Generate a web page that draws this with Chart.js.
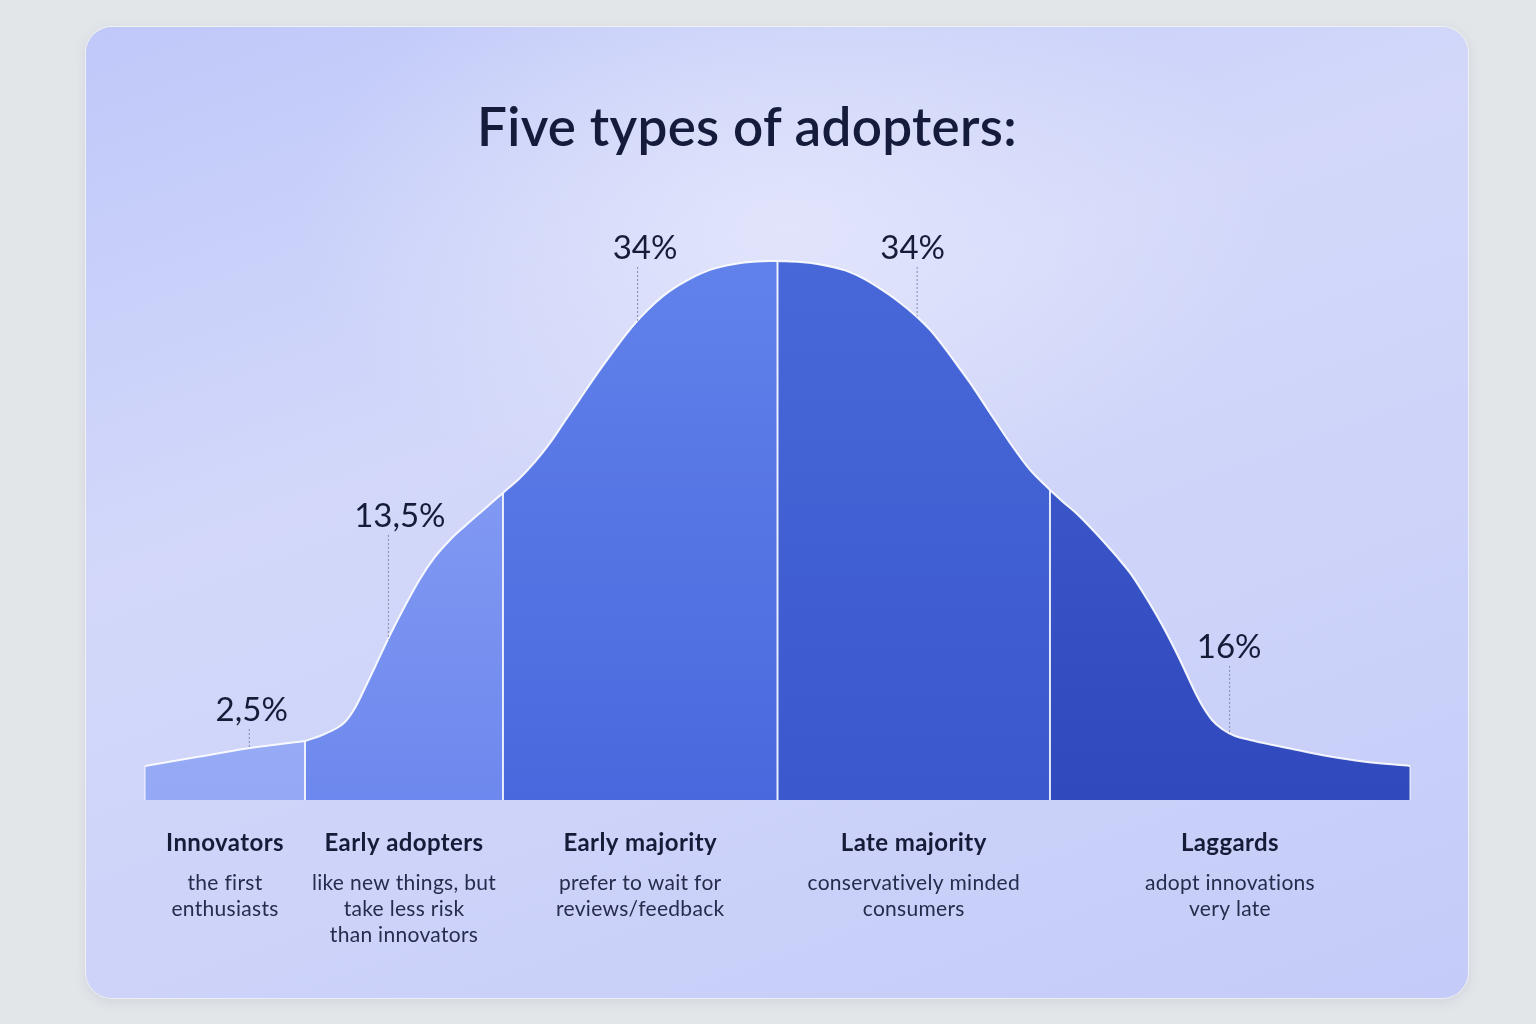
<!DOCTYPE html>
<html lang="en">
<head>
    <meta charset="UTF-8">
    <title>Five types of adopters</title>
    <script src="https://cdn.jsdelivr.net/npm/chart.js"></script>
    <style>
        html, body { margin: 0; padding: 0; width: 1536px; height: 1024px; overflow: hidden; background: #e3e6e9; font-family: Lato, "Noto Sans", sans-serif; }
        .card { position: absolute; left: 86px; top: 27px; width: 1382px; height: 971px; border-radius: 26px;
            background: radial-gradient(ellipse 700px 420px at 700px 200px, rgba(228,231,251,0.85), rgba(228,231,251,0) 70%),
                        linear-gradient(160deg, #bfc8f9 0%, #d3d8fa 38%, #cdd3f9 65%, #c4cbf8 100%);
            box-shadow: 0 0 0 1px rgba(255,255,255,0.55), 0 3px 14px rgba(110,120,160,0.18); }
        h1 { position: absolute; left: 326px; width: 842px; top: 94px; margin: 0; line-height: 64px; text-align: center; font-size: 53px; font-weight: 600; color: #141b3b; letter-spacing: 0.3px; }
        #chart { position: absolute; left: 0; top: 0; }
    </style>
</head>
<body>
    <div class="card"></div>
    <h1>Five types of adopters:</h1>
    <canvas id="chart" width="1536" height="1024"></canvas>

    <script>
        // curve: x along the axis (0-100), y = height (peak = 100)
        const curveX = [0, 4.11, 8.30, 12.65, 13.83, 15.02, 15.81, 16.60, 17.39, 18.18, 19.37, 20.55,
            21.74, 22.92, 24.11, 25.30, 26.48, 28.30,
            29.64, 30.83, 32.02, 33.20, 34.39, 35.57, 36.76, 37.94, 39.13, 40.32, 41.50, 43.08,
            44.66, 46.64, 48.38, 50,
            51.78, 53.36, 55.34, 56.92, 58.26, 59.45, 61.03, 62.06, 63.08, 64.19, 65.22, 66.80,
            68.38, 69.96, 71.54,
            72.57, 73.68, 74.70, 75.73, 76.84, 77.87, 78.81, 79.68, 80.40, 81.03, 81.74, 82.37,
            83.00, 83.64, 84.35, 85.14, 86.17, 87.35, 88.93, 91.07, 93.68, 96.29, 100];
        const curveY = [6.31, 7.98, 9.65, 10.95, 11.87, 13.17, 14.47, 17.07, 20.78, 24.68, 30.61, 35.99,
            41.00, 45.08, 48.24, 50.83, 53.25, 56.96,
            59.74, 62.71, 66.23, 70.32, 74.40, 78.48, 82.37, 86.09, 89.42, 92.21, 94.43, 96.66,
            98.33, 99.44, 99.87, 100,
            99.81, 99.35, 98.24, 96.57, 94.62, 92.67, 89.61, 87.20, 84.23, 80.71, 77.37, 71.80,
            66.23, 61.22, 57.51,
            55.29, 53.06, 50.65, 48.05, 45.08, 42.12, 38.78, 35.44, 32.47, 29.68, 26.35, 23.19,
            20.04, 17.25, 14.84, 13.17, 11.87, 11.13, 10.30, 9.28, 8.07, 7.14, 6.31];

        const boundaries = [0, 12.65, 28.30, 50, 71.54, 100];
        const categories = ['Innovators', 'Early adopters', 'Early majority', 'Late majority', 'Laggards'];
        const descriptions = [
            ['the first', 'enthusiasts'],
            ['like new things, but', 'take less risk', 'than innovators'],
            ['prefer to wait for', 'reviews/feedback'],
            ['conservatively minded', 'consumers'],
            ['adopt innovations', 'very late']
        ];
        const shares = ['2,5%', '13,5%', '34%', '34%', '16%'];

        const segmentColors = [
            ['#a9baf9', '#94a8f5'],
            ['#90a6f6', '#6d88ee'],
            ['#6282eb', '#4a68dd'],
            ['#4868d9', '#3b58cc'],
            ['#415fd1', '#3049bd']
        ];

        function curveAt(x) {
            for (let i = 1; i < curveX.length; i++) {
                if (x <= curveX[i]) {
                    const t = (x - curveX[i - 1]) / (curveX[i] - curveX[i - 1]);
                    return curveY[i - 1] + t * (curveY[i] - curveY[i - 1]);
                }
            }
            return curveY[curveY.length - 1];
        }

        const datasets = categories.map((name, i) => {
            const pts = [];
            curveX.forEach((x, j) => {
                if (x >= boundaries[i] - 1e-6 && x <= boundaries[i + 1] + 1e-6) pts.push({ x: x, y: curveY[j] });
            });
            return {
                label: name,
                data: pts,
                fill: 'origin',
                borderColor: 'rgba(255,255,255,0.9)',
                borderWidth: 2,
                pointRadius: 0,
                cubicInterpolationMode: 'monotone',
                backgroundColor: (ctx) => {
                    const area = ctx.chart.chartArea;
                    if (!area) return segmentColors[i][1];
                    const g = ctx.chart.ctx.createLinearGradient(0, area.top + 40, 0, area.bottom);
                    g.addColorStop(0, segmentColors[i][0]);
                    g.addColorStop(1, segmentColors[i][1]);
                    return g;
                }
            };
        });

        const decor = {
            id: 'decor',
            afterDatasetsDraw(chart, args, opts) {
                const { ctx } = chart;
                const xs = chart.scales.x, ys = chart.scales.y;
                const base = ys.getPixelForValue(0);
                ctx.save();

                // white dividers between the groups
                boundaries.forEach((b, i) => {
                    const px = xs.getPixelForValue(b);
                    ctx.strokeStyle = (i === 0 || i === boundaries.length - 1) ? 'rgba(255,255,255,0.45)' : 'rgba(255,255,255,0.85)';
                    ctx.lineWidth = 2;
                    ctx.beginPath();
                    ctx.moveTo(px, base);
                    ctx.lineTo(px, ys.getPixelForValue(curveAt(b)));
                    ctx.stroke();
                });

                // share labels with dotted leaders
                opts.anchors.forEach((a, i) => {
                    const px = xs.getPixelForValue(a.x);
                    const ty = ys.getPixelForValue(a.y);
                    const cy = ys.getPixelForValue(curveAt(a.x));
                    ctx.strokeStyle = 'rgba(110,118,150,0.8)';
                    ctx.lineWidth = 1;
                    ctx.setLineDash([2, 2]);
                    ctx.beginPath();
                    ctx.moveTo(px + 0.5, ty + 19);
                    ctx.lineTo(px + 0.5, cy);
                    ctx.stroke();
                    ctx.setLineDash([]);
                    ctx.fillStyle = '#161c38';
                    ctx.font = '400 33px Lato';
                    ctx.textAlign = 'center';
                    ctx.textBaseline = 'middle';
                    ctx.fillText(shares[i], px + a.dx, ty);
                });

                // group names and descriptions under the curve
                categories.forEach((name, i) => {
                    const cx = xs.getPixelForValue((boundaries[i] + boundaries[i + 1]) / 2);
                    ctx.textAlign = 'center';
                    ctx.textBaseline = 'middle';
                    ctx.fillStyle = '#161c38';
                    ctx.font = '700 24px Lato';
                    ctx.letterSpacing = '0.4px';
                    ctx.fillText(name, cx, base + 43);
                    ctx.fillStyle = '#252c4c';
                    ctx.font = '400 21px Lato';
                    ctx.letterSpacing = '0.3px';
                    descriptions[i].forEach((line, k) => {
                        ctx.fillText(line, cx, base + 83 + k * 26);
                    });
                });
                ctx.restore();
            }
        };

        new Chart(document.getElementById('chart').getContext('2d'), {
            type: 'line',
            data: { datasets: datasets },
            options: {
                responsive: false,
                animation: false,
                layout: { padding: { left: 145, right: 126, top: 207, bottom: 224 } },
                scales: {
                    x: { type: 'linear', min: 0, max: 100, display: false },
                    y: { min: 0, max: 110, display: false }
                },
                plugins: {
                    legend: { display: false },
                    tooltip: { enabled: false },
                    decor: {
                        anchors: [
                            { x: 8.2, y: 16.7, dx: 3 },
                            { x: 19.2, y: 52.7, dx: 12 },
                            { x: 38.9, y: 102.4, dx: 8 },
                            { x: 61.0, y: 102.4, dx: -4 },
                            { x: 85.7, y: 28.4, dx: 0 }
                        ]
                    }
                }
            },
            plugins: [decor]
        });
    </script>
</body>
</html>
